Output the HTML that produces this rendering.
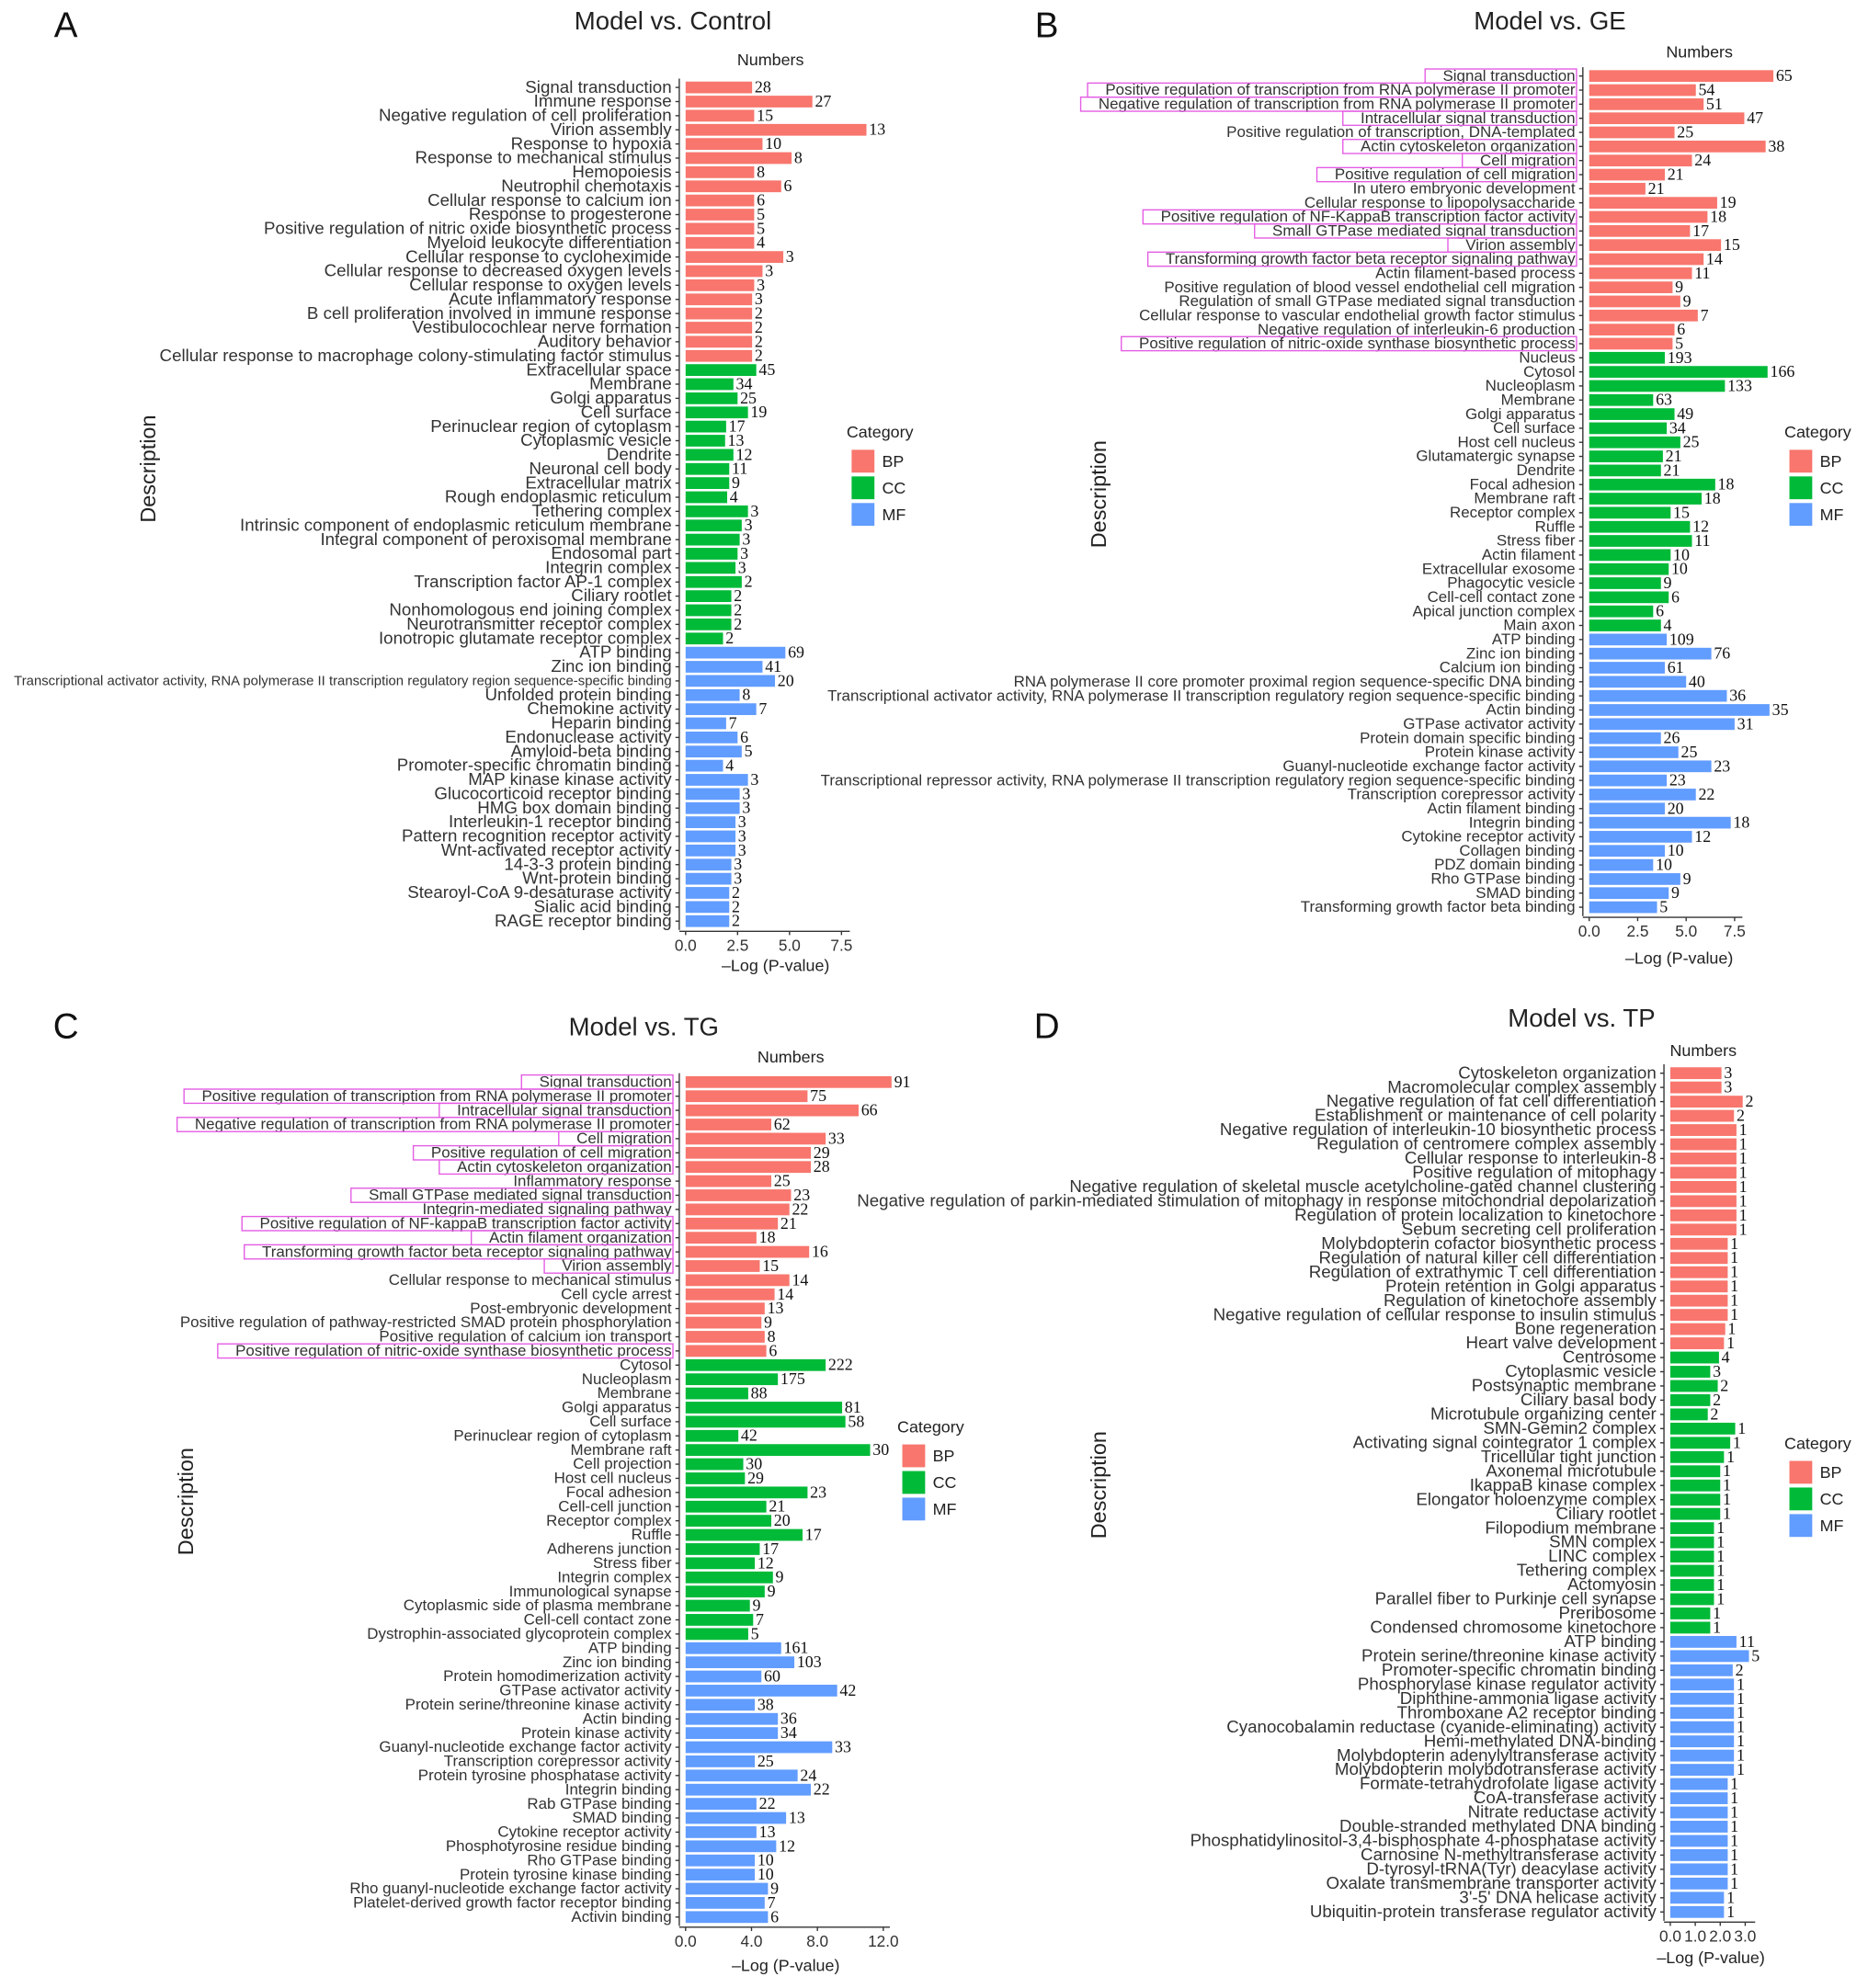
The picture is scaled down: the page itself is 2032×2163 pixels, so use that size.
<!DOCTYPE html>
<html><head><meta charset="utf-8"><style>
html,body{margin:0;padding:0;background:#fff;}
svg{display:block;}
text{font-family:"Liberation Sans",sans-serif;}
.lbl{fill:#333;}
.num{font-family:"Liberation Serif",serif;font-size:13px;fill:#111;}
</style></head><body>
<svg id="chart" width="2032" height="2163" viewBox="0 0 1474 1569" preserveAspectRatio="none" xmlns="http://www.w3.org/2000/svg"></svg>
<script>
// ---------- Panel A: Model vs. Control ----------
const A_labels = ["Signal transduction","Immune response","Negative regulation of cell proliferation","Virion assembly","Response to hypoxia","Response to mechanical stimulus","Hemopoiesis","Neutrophil chemotaxis","Cellular response to calcium ion","Response to progesterone","Positive regulation of nitric oxide biosynthetic process","Myeloid leukocyte differentiation","Cellular response to cycloheximide","Cellular response to decreased oxygen levels","Cellular response to oxygen levels","Acute inflammatory response","B cell proliferation involved in immune response","Vestibulocochlear nerve formation","Auditory behavior","Cellular response to macrophage colony-stimulating factor stimulus",
"Extracellular space","Membrane","Golgi apparatus","Cell surface","Perinuclear region of cytoplasm","Cytoplasmic vesicle","Dendrite","Neuronal cell body","Extracellular matrix","Rough endoplasmic reticulum","Tethering complex","Intrinsic component of endoplasmic reticulum membrane","Integral component of peroxisomal membrane","Endosomal part","Integrin complex","Transcription factor AP-1 complex","Ciliary rootlet","Nonhomologous end joining complex","Neurotransmitter receptor complex","Ionotropic glutamate receptor complex",
"ATP binding","Zinc ion binding","Transcriptional activator activity, RNA polymerase II transcription regulatory region sequence-specific binding","Unfolded protein binding","Chemokine activity","Heparin binding","Endonuclease activity","Amyloid-beta binding","Promoter-specific chromatin binding","MAP kinase kinase activity","Glucocorticoid receptor binding","HMG box domain binding","Interleukin-1 receptor binding","Pattern recognition receptor activity","Wnt-activated receptor activity","14-3-3 protein binding","Wnt-protein binding","Stearoyl-CoA 9-desaturase activity","Sialic acid binding","RAGE receptor binding"];
const A_counts = [28,27,15,13,10,8,8,6,6,5,5,4,3,3,3,3,2,2,2,2, 45,34,25,19,17,13,12,11,9,4,3,3,3,3,3,2,2,2,2,2, 69,41,20,8,7,7,6,5,4,3,3,3,3,3,3,3,3,2,2,2];
const A_values = [3.2,6.1,3.3,8.7,3.7,5.1,3.3,4.6,3.3,3.3,3.3,3.3,4.7,3.7,3.3,3.2,3.2,3.2,3.2,3.2, 3.4,2.3,2.5,3.0,1.95,1.9,2.3,2.1,2.1,2.0,3.0,2.7,2.6,2.5,2.4,2.7,2.2,2.2,2.2,1.8, 4.8,3.7,4.3,2.6,3.4,1.95,2.5,2.7,1.8,3.0,2.6,2.6,2.4,2.4,2.4,2.2,2.2,2.1,2.1,2.1];
const A_groupSizes = [20,20,20];
const A_highlight = [];
const A_ticks = [0,2.5,5,7.5];
const A_tickLabels = ["0.0","2.5","5.0","7.5"];

// ---------- Panel B: Model vs. GE ----------
const B_labels = ["Signal transduction","Positive regulation of transcription from RNA polymerase II promoter","Negative regulation of transcription from RNA polymerase II promoter","Intracellular signal transduction","Positive regulation of transcription, DNA-templated","Actin cytoskeleton organization","Cell migration","Positive regulation of cell migration","In utero embryonic development","Cellular response to lipopolysaccharide","Positive regulation of NF-KappaB transcription factor activity","Small GTPase mediated signal transduction","Virion assembly","Transforming growth factor beta receptor signaling pathway","Actin filament-based process","Positive regulation of blood vessel endothelial cell migration","Regulation of small GTPase mediated signal transduction","Cellular response to vascular endothelial growth factor stimulus","Negative regulation of interleukin-6 production","Positive regulation of nitric-oxide synthase biosynthetic process",
"Nucleus","Cytosol","Nucleoplasm","Membrane","Golgi apparatus","Cell surface","Host cell nucleus","Glutamatergic synapse","Dendrite","Focal adhesion","Membrane raft","Receptor complex","Ruffle","Stress fiber","Actin filament","Extracellular exosome","Phagocytic vesicle","Cell-cell contact zone","Apical junction complex","Main axon",
"ATP binding","Zinc ion binding","Calcium ion binding","RNA polymerase II core promoter proximal region sequence-specific DNA binding","Transcriptional activator activity, RNA polymerase II transcription regulatory region sequence-specific binding","Actin binding","GTPase activator activity","Protein domain specific binding","Protein kinase activity","Guanyl-nucleotide exchange factor activity","Transcriptional repressor activity, RNA polymerase II transcription regulatory region sequence-specific binding","Transcription corepressor activity","Actin filament binding","Integrin binding","Cytokine receptor activity","Collagen binding","PDZ domain binding","Rho GTPase binding","SMAD binding","Transforming growth factor beta binding"];
const B_counts = [65,54,51,47,25,38,24,21,21,19,18,17,15,14,11,9,9,7,6,5, 193,166,133,63,49,34,25,21,21,18,18,15,12,11,10,10,9,6,6,4, 109,76,61,40,36,35,31,26,25,23,23,22,20,18,12,10,10,9,9,5];
const B_values = [9.5,5.5,5.9,8.0,4.4,9.1,5.3,3.9,2.9,6.6,6.1,5.2,6.8,5.9,5.3,4.3,4.7,5.6,4.4,4.3, 3.9,9.2,7.0,3.3,4.4,4.0,4.7,3.8,3.7,6.5,5.8,4.2,5.2,5.3,4.2,4.1,3.7,4.1,3.3,3.7, 4.0,6.3,3.9,5.0,7.1,9.3,7.5,3.7,4.6,6.3,4.0,5.5,3.9,7.3,5.3,3.9,3.3,4.7,4.1,3.5];
const B_groupSizes = [20,20,20];
const B_highlight = [0,1,2,3,5,6,7,10,11,12,13,19];
const B_ticks = [0,2.5,5,7.5];
const B_tickLabels = ["0.0","2.5","5.0","7.5"];

// ---------- Panel C: Model vs. TG ----------
const C_labels = ["Signal transduction","Positive regulation of transcription from RNA polymerase II promoter","Intracellular signal transduction","Negative regulation of transcription from RNA polymerase II promoter","Cell migration","Positive regulation of cell migration","Actin cytoskeleton organization","Inflammatory response","Small GTPase mediated signal transduction","Integrin-mediated signaling pathway","Positive regulation of NF-kappaB transcription factor activity","Actin filament organization","Transforming growth factor beta receptor signaling pathway","Virion assembly","Cellular response to mechanical stimulus","Cell cycle arrest","Post-embryonic development","Positive regulation of pathway-restricted SMAD protein phosphorylation","Positive regulation of calcium ion transport","Positive regulation of nitric-oxide synthase biosynthetic process",
"Cytosol","Nucleoplasm","Membrane","Golgi apparatus","Cell surface","Perinuclear region of cytoplasm","Membrane raft","Cell projection","Host cell nucleus","Focal adhesion","Cell-cell junction","Receptor complex","Ruffle","Adherens junction","Stress fiber","Integrin complex","Immunological synapse","Cytoplasmic side of plasma membrane","Cell-cell contact zone","Dystrophin-associated glycoprotein complex",
"ATP binding","Zinc ion binding","Protein homodimerization activity","GTPase activator activity","Protein serine/threonine kinase activity","Actin binding","Protein kinase activity","Guanyl-nucleotide exchange factor activity","Transcription corepressor activity","Protein tyrosine phosphatase activity","Integrin binding","Rab GTPase binding","SMAD binding","Cytokine receptor activity","Phosphotyrosine residue binding","Rho GTPase binding","Protein tyrosine kinase binding","Rho guanyl-nucleotide exchange factor activity","Platelet-derived growth factor receptor binding","Activin binding"];
const C_counts = [91,75,66,62,33,29,28,25,23,22,21,18,16,15,14,14,13,9,8,6, 222,175,88,81,58,42,30,30,29,23,21,20,17,17,12,9,9,9,7,5, 161,103,60,42,38,36,34,33,25,24,22,22,13,13,12,10,10,9,7,6];
const C_values = [12.5,7.4,10.5,5.2,8.5,7.6,7.6,5.2,6.4,6.3,5.6,4.3,7.5,4.5,6.3,5.4,4.8,4.6,4.8,4.9, 8.5,5.6,3.8,9.5,9.7,3.2,11.2,3.5,3.6,7.4,4.9,5.2,7.1,4.5,4.2,5.3,4.8,3.9,4.1,3.8, 5.8,6.6,4.6,9.2,4.2,5.6,5.6,8.9,4.2,6.8,7.6,4.3,6.1,4.3,5.5,4.2,4.2,5.0,4.8,5.0];
const C_groupSizes = [20,20,20];
const C_highlight = [0,1,2,3,4,5,6,8,10,11,12,13,19];
const C_ticks = [0,4,8,12];
const C_tickLabels = ["0.0","4.0","8.0","12.0"];

// ---------- Panel D: Model vs. TP ----------
const D_labels = ["Cytoskeleton organization","Macromolecular complex assembly","Negative regulation of fat cell differentiation","Establishment or maintenance of cell polarity","Negative regulation of interleukin-10 biosynthetic process","Regulation of centromere complex assembly","Cellular response to interleukin-8","Positive regulation of mitophagy","Negative regulation of skeletal muscle acetylcholine-gated channel clustering","Negative regulation of parkin-mediated stimulation of mitophagy in response mitochondrial depolarization","Regulation of protein localization to kinetochore","Sebum secreting cell proliferation","Molybdopterin cofactor biosynthetic process","Regulation of natural killer cell differentiation","Regulation of extrathymic T cell differentiation","Protein retention in Golgi apparatus","Regulation of kinetochore assembly","Negative regulation of cellular response to insulin stimulus","Bone regeneration","Heart valve development",
"Centrosome","Cytoplasmic vesicle","Postsynaptic membrane","Ciliary basal body","Microtubule organizing center","SMN-Gemin2 complex","Activating signal cointegrator 1 complex","Tricellular tight junction","Axonemal microtubule","IkappaB kinase complex","Elongator holoenzyme complex","Ciliary rootlet","Filopodium membrane","SMN complex","LINC complex","Tethering complex","Actomyosin","Parallel fiber to Purkinje cell synapse","Preribosome","Condensed chromosome kinetochore",
"ATP binding","Protein serine/threonine kinase activity","Promoter-specific chromatin binding","Phosphorylase kinase regulator activity","Diphthine-ammonia ligase activity","Thromboxane A2 receptor binding","Cyanocobalamin reductase (cyanide-eliminating) activity","Hemi-methylated DNA-binding","Molybdopterin adenylyltransferase activity","Molybdopterin molybdotransferase activity","Formate-tetrahydrofolate ligase activity","CoA-transferase activity","Nitrate reductase activity","Double-stranded methylated DNA binding","Phosphatidylinositol-3,4-bisphosphate 4-phosphatase activity","Carnosine N-methyltransferase activity","D-tyrosyl-tRNA(Tyr) deacylase activity","Oxalate transmembrane transporter activity","3'-5' DNA helicase activity","Ubiquitin-protein transferase regulator activity"];
const D_counts = [3,3,2,2,1,1,1,1,1,1,1,1,1,1,1,1,1,1,1,1, 4,3,2,2,2,1,1,1,1,1,1,1,1,1,1,1,1,1,1,1, 11,5,2,1,1,1,1,1,1,1,1,1,1,1,1,1,1,1,1,1];
const D_values = [2.05,2.05,2.9,2.55,2.65,2.65,2.65,2.65,2.65,2.65,2.65,2.65,2.3,2.3,2.3,2.3,2.3,2.3,2.2,2.15, 1.95,1.6,1.9,1.6,1.5,2.6,2.4,2.15,2.0,2.0,2.0,2.0,1.75,1.75,1.75,1.75,1.75,1.75,1.6,1.6, 2.65,3.15,2.5,2.55,2.55,2.55,2.55,2.55,2.55,2.55,2.3,2.3,2.3,2.3,2.3,2.3,2.3,2.3,2.15,2.15];
const D_groupSizes = [20,20,20];
const D_highlight = [];
const D_ticks = [0,1,2,3];
const D_tickLabels = ["0.0","1.0","2.0","3.0"];

const catNames = ["BP","CC","MF"];
const catColors = ["#F8766D","#00BA38","#619CFF"];

const NS = "http://www.w3.org/2000/svg";
const svg = document.getElementById("chart");
function mk(tag, attrs, parent, txt){
  const e = document.createElementNS(NS, tag);
  for (const k in attrs) e.setAttribute(k, attrs[k]);
  if (txt !== undefined) e.textContent = txt;
  (parent || svg).appendChild(e);
  return e;
}

const panels = [
  {key:"a", letter:"A", title:"Model vs. Control", labels:A_labels, counts:A_counts, values:A_values, groups:A_groupSizes, hl:A_highlight, ticks:A_ticks, tickLabels:A_tickLabels,
   x0:541, ppu:16.4, y0:69, y1:727, fs:13.6, maxW:519, letterXY:[52,22], titleXY:[531,18], numXY:[608,48], descXY:[118,370], xtitleXY:[612,763], legXY:[670,342]},
  {key:"b", letter:"B", title:"Model vs. GE", labels:B_labels, counts:B_counts, values:B_values, groups:B_groupSizes, hl:B_highlight, ticks:B_ticks, tickLabels:B_tickLabels,
   x0:1254, ppu:15.3, y0:60, y1:716, fs:12.3, maxW:9999, letterXY:[826,22], titleXY:[1223,18], numXY:[1341,42], descXY:[868,390], xtitleXY:[1325,757], legXY:[1410,342]},
  {key:"c", letter:"C", title:"Model vs. TG", labels:C_labels, counts:C_counts, values:C_values, groups:C_groupSizes, hl:C_highlight, ticks:C_ticks, tickLabels:C_tickLabels,
   x0:541, ppu:13.0, y0:854, y1:1513, fs:12.3, maxW:9999, letterXY:[52,812], titleXY:[508,812], numXY:[624,835], descXY:[148,1185], xtitleXY:[620,1552], legXY:[710,1127]},
  {key:"d", letter:"D", title:"Model vs. TP", labels:D_labels, counts:D_counts, values:D_values, groups:D_groupSizes, hl:D_highlight, ticks:D_ticks, tickLabels:D_tickLabels,
   x0:1318, ppu:19.7, y0:847, y1:1509, fs:13.6, maxW:9999, letterXY:[826,812], titleXY:[1248,805], numXY:[1344,830], descXY:[868,1172], xtitleXY:[1350,1546], legXY:[1410,1140]}
];

panels.forEach(p => {
  const g = mk("g", {});
  
  
  const n = p.labels.length;
  const pitch = (p.y1 - p.y0) / (n - 1);
  const xS = v => p.x0 + v * p.ppu;
  const yS = i => p.y0 + i * pitch;
  const barH = pitch * 0.83;

  const letter = mk("text", {x:p.letterXY[0], y:p.letterXY[1], "font-size":28, "text-anchor":"middle", "dominant-baseline":"middle", fill:"#111"}, g, p.letter);
  
  
  const title = mk("text", {x:p.titleXY[0], y:p.titleXY[1], "font-size":20, "text-anchor":"middle", "dominant-baseline":"middle", fill:"#222"}, g, p.title);
  
  
  const numT = mk("text", {x:p.numXY[0], y:p.numXY[1], "font-size":13, "text-anchor":"middle", "dominant-baseline":"middle", fill:"#222"}, g, "Numbers");
  
  
  const desc = mk("text", {x:p.descXY[0], y:p.descXY[1], "font-size":17, "text-anchor":"middle", "dominant-baseline":"middle", fill:"#222", transform:`rotate(-90 ${p.descXY[0]} ${p.descXY[1]})`}, g, "Description");
  
  
  const xt = mk("text", {x:p.xtitleXY[0], y:p.xtitleXY[1], "font-size":13, "text-anchor":"middle", "dominant-baseline":"middle", fill:"#222"}, g, "\u2013Log (P-value)");
  
  

  const ax = p.x0 - 5;
  const yl = mk("line", {x1:ax, x2:ax, y1:p.y0 - 7, y2:p.y1 + 7, stroke:"#333", "stroke-width":1}, g);
  
  
  const xl = mk("line", {x1:ax, x2:xS(p.ticks[p.ticks.length-1]) + p.ppu*0.4, y1:p.y1 + 8, y2:p.y1 + 8, stroke:"#333", "stroke-width":1}, g);
  
  
  p.ticks.forEach((t, k) => {
    const tk = mk("line", {x1:xS(t), x2:xS(t), y1:p.y1 + 8, y2:p.y1 + 11, stroke:"#333"}, g);
    
    
    const tl = mk("text", {x:xS(t), y:p.y1 + 20, "font-size":12.5, "text-anchor":"middle", "dominant-baseline":"middle", fill:"#333"}, g, p.tickLabels[k]);
    
    
  });

  let gi = 0, gEnd = p.groups[0];
  for (let i = 0; i < n; i++) {
    while (i >= gEnd) { gi++; gEnd += p.groups[gi]; }
    const y = yS(i);
    const tk = mk("line", {x1:ax - 3, x2:ax, y1:y, y2:y, stroke:"#333"}, g);
    
    
    const bar = mk("rect", {x:p.x0, y:y - barH/2, width:Math.max(0, xS(p.values[i]) - p.x0), height:barH, fill:catColors[gi]}, g);
    
    
    const lab = mk("text", {x:ax - 6, y:y + 0.5, class:"lbl", "font-size":p.fs, "text-anchor":"end", "dominant-baseline":"middle"}, g, p.labels[i]);
    
    
    let w = lab.getComputedTextLength();
    if (w > p.maxW) {
      lab.setAttribute("font-size", 10.5);
      lab.setAttribute("textLength", p.maxW);
      lab.setAttribute("lengthAdjust", "spacingAndGlyphs");
      w = p.maxW;
    }
    const num = mk("text", {x:xS(p.values[i]) + 2, y:y + 1, class:"num", "dominant-baseline":"middle"}, g, String(p.counts[i]));
    
    
    if (p.hl.indexOf(i) >= 0) {
      const box = mk("rect", {x:ax - 6 - w - 14, y:y - pitch/2, width:w + 15, height:pitch, fill:"none", stroke:"#e45ce4", "stroke-width":1}, g);
      
      
    }
  }

  const [lx, ly] = p.legXY;
  const lt = mk("text", {x:lx - 2, y:ly, "font-size":13, "dominant-baseline":"middle", fill:"#222"}, g, "Category");
  
  
  catNames.forEach((c, k) => {
    const yy = ly + 22 + k * 21;
    const sw = mk("rect", {x:lx + 2, y:yy - 9, width:18, height:18, fill:catColors[k]}, g);
    
    
    const st = mk("text", {x:lx + 26, y:yy + 1, "font-size":13, "dominant-baseline":"middle", fill:"#222"}, g, c);
    
    
  });
});
</script>
</body></html>
